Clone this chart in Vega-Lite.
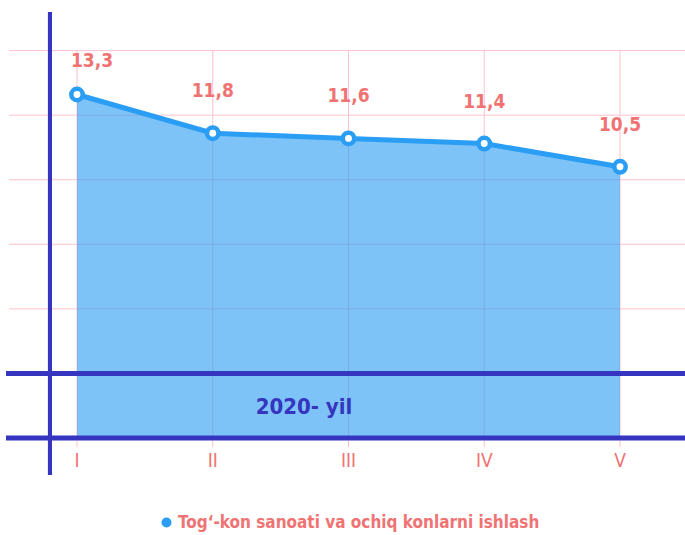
{
  "$schema": "https://vega.github.io/schema/vega-lite/v6.json",
  "width": 685,
  "height": 535,
  "autosize": "none",
  "padding": 0,
  "background": "white",
  "config": {"view": {"stroke": null}, "axis": {"disable": true}},
  "datasets": {
    "main": [
      {"idx": 1, "period": "I", "value": 13.3, "label": "13,3", "series": "Tog‘-kon sanoati va ochiq konlarni ishlash"},
      {"idx": 2, "period": "II", "value": 11.8, "label": "11,8", "series": "Tog‘-kon sanoati va ochiq konlarni ishlash"},
      {"idx": 3, "period": "III", "value": 11.6, "label": "11,6", "series": "Tog‘-kon sanoati va ochiq konlarni ishlash"},
      {"idx": 4, "period": "IV", "value": 11.4, "label": "11,4", "series": "Tog‘-kon sanoati va ochiq konlarni ishlash"},
      {"idx": 5, "period": "V", "value": 10.5, "label": "10,5", "series": "Tog‘-kon sanoati va ochiq konlarni ishlash"}
    ],
    "grid": [{"g": 0}, {"g": 2.5}, {"g": 5}, {"g": 7.5}, {"g": 10}, {"g": 12.5}, {"g": 15}],
    "band": [{"b": 0}, {"b": 2.5}],
    "note": [{"text": "2020- yil", "xpos": 2.672, "ypos": 0.93}]
  },
  "layer": [
    {
      "data": {"name": "grid"},
      "mark": {"type": "rule", "color": "#ffc2cb", "strokeWidth": 1},
      "encoding": {
        "y": {"field": "g", "type": "quantitative", "scale": {"domain": [-3.756, 16.959], "nice": false, "zero": false}},
        "x": {"datum": 0.5, "type": "quantitative", "scale": {"domain": [0.4328, 5.4788], "nice": false, "zero": false}},
        "x2": {"datum": 5.6}
      }
    },
    {
      "data": {"name": "main"},
      "mark": {"type": "rule", "color": "#ffc2cb", "strokeWidth": 1},
      "encoding": {
        "x": {"field": "idx", "type": "quantitative"},
        "y": {"datum": -0.35},
        "y2": {"datum": 15}
      }
    },
    {
      "data": {"name": "main"},
      "mark": {"type": "area", "opacity": 0.61},
      "encoding": {
        "x": {"field": "idx", "type": "quantitative"},
        "y": {"field": "value", "type": "quantitative"},
        "y2": {"datum": 0},
        "color": {
          "field": "series", "type": "nominal",
          "scale": {"range": ["#2a9df4"]},
          "legend": {
            "title": null, "orient": "none", "legendX": 158, "legendY": 514,
            "symbolType": "circle", "symbolSize": 100, "symbolOpacity": 1, "symbolStrokeWidth": 0,
            "symbolFillColor": "#2a9df4",
            "labelFont": "DejaVu Sans Condensed", "labelFontSize": 17,
            "labelFontWeight": "bold", "labelColor": "#f07373", "labelLimit": 0, "labelOffset": 3
          }
        }
      }
    },
    {
      "data": {"name": "main"},
      "mark": {"type": "line", "color": "#2a9df4", "strokeWidth": 5},
      "encoding": {
        "x": {"field": "idx", "type": "quantitative"},
        "y": {"field": "value", "type": "quantitative"}
      }
    },
    {
      "data": {"name": "band"},
      "mark": {"type": "rule", "color": "#3535bf", "strokeWidth": 5},
      "encoding": {
        "y": {"field": "b", "type": "quantitative"},
        "x": {"datum": 0.477},
        "x2": {"datum": 5.6}
      }
    },
    {
      "data": {"name": "main"},
      "mark": {"type": "rule", "color": "#3535bf", "strokeWidth": 4},
      "encoding": {
        "x": {"datum": 0.801},
        "y": {"datum": -1.433},
        "y2": {"datum": 16.494}
      }
    },
    {
      "data": {"name": "main"},
      "mark": {"type": "point", "filled": true, "fill": "white", "stroke": "#2a9df4", "strokeWidth": 4.5, "size": 130, "opacity": 1},
      "encoding": {
        "x": {"field": "idx", "type": "quantitative"},
        "y": {"field": "value", "type": "quantitative"}
      }
    },
    {
      "data": {"name": "main"},
      "transform": [{"filter": "datum.idx > 1"}],
      "mark": {"type": "text", "baseline": "bottom", "dy": -32, "color": "#f07373", "font": "DejaVu Sans Condensed", "fontSize": 19, "fontWeight": "bold"},
      "encoding": {
        "x": {"field": "idx", "type": "quantitative"},
        "y": {"field": "value", "type": "quantitative"},
        "text": {"field": "label"}
      }
    },
    {
      "data": {"name": "main"},
      "transform": [{"filter": "datum.idx == 1"}],
      "mark": {"type": "text", "baseline": "bottom", "dx": 15, "dy": -23, "color": "#f07373", "font": "DejaVu Sans Condensed", "fontSize": 19, "fontWeight": "bold"},
      "encoding": {
        "x": {"field": "idx", "type": "quantitative"},
        "y": {"field": "value", "type": "quantitative"},
        "text": {"field": "label"}
      }
    },
    {
      "data": {"name": "main"},
      "mark": {"type": "text", "baseline": "middle", "color": "#f07373", "font": "DejaVu Sans Condensed", "fontSize": 19},
      "encoding": {
        "x": {"field": "idx", "type": "quantitative"},
        "y": {"datum": -0.89},
        "text": {"field": "period"}
      }
    },
    {
      "data": {"name": "note"},
      "mark": {"type": "text", "baseline": "alphabetic", "align": "center", "color": "#3535bf", "font": "DejaVu Sans Condensed", "fontSize": 22, "fontWeight": "bold"},
      "encoding": {
        "x": {"field": "xpos", "type": "quantitative"},
        "y": {"field": "ypos", "type": "quantitative"},
        "text": {"field": "text"}
      }
    }
  ]
}
